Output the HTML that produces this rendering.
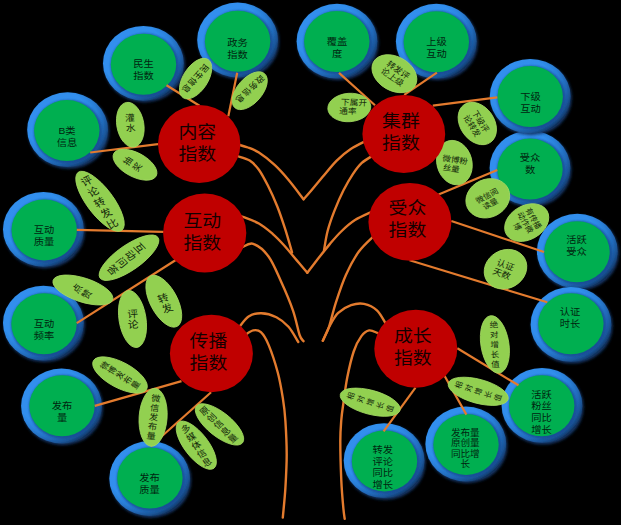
<!DOCTYPE html>
<html lang="zh"><head><meta charset="utf-8"><title>指数树</title>
<style>
html,body{margin:0;padding:0;background:#000;}
body{width:621px;height:525px;overflow:hidden;font-family:"Liberation Sans","Noto Sans CJK SC",sans-serif;}
svg{display:block;}
text{font-family:"Liberation Sans","Noto Sans CJK SC",sans-serif;}
</style></head><body>
<svg width="621" height="525" viewBox="0 0 621 525">
<rect width="621" height="525" fill="#000"/>
<defs>
<radialGradient id="bl" cx="0.38" cy="0.38" r="0.68" fx="0.38" fy="0.38">
<stop offset="0" stop-color="#3190EF"/>
<stop offset="0.60" stop-color="#308EED"/>
<stop offset="0.72" stop-color="#2B80D8"/>
<stop offset="0.82" stop-color="#226BBB"/>
<stop offset="0.90" stop-color="#1B5598"/>
<stop offset="0.96" stop-color="#123D70"/>
<stop offset="1" stop-color="#081A33"/>
</radialGradient>
<filter id="soft" x="-10%" y="-10%" width="120%" height="120%"><feGaussianBlur stdDeviation="0.45"/></filter>
<filter id="bs" x="-10%" y="-10%" width="120%" height="120%"><feGaussianBlur stdDeviation="1.4"/></filter>
<filter id="gs" x="-10%" y="-10%" width="120%" height="120%"><feGaussianBlur stdDeviation="1.3"/></filter>
</defs>
<ellipse cx="144.4" cy="64.8" rx="40.4" ry="37.4" fill="#123a70" filter="url(#bs)"/>
<ellipse cx="143.4" cy="63.3" rx="40.4" ry="37.4" fill="url(#bl)" filter="url(#soft)"/>
<ellipse cx="238.6" cy="41.5" rx="40.4" ry="37.4" fill="#123a70" filter="url(#bs)"/>
<ellipse cx="237.6" cy="40" rx="40.4" ry="37.4" fill="url(#bl)" filter="url(#soft)"/>
<ellipse cx="68.6" cy="131.2" rx="40.4" ry="37.4" fill="#123a70" filter="url(#bs)"/>
<ellipse cx="67.6" cy="129.7" rx="40.4" ry="37.4" fill="url(#bl)" filter="url(#soft)"/>
<ellipse cx="44.4" cy="230.8" rx="40.4" ry="37.4" fill="#123a70" filter="url(#bs)"/>
<ellipse cx="43.4" cy="229.3" rx="40.4" ry="37.4" fill="url(#bl)" filter="url(#soft)"/>
<ellipse cx="44.4" cy="324.6" rx="40.4" ry="37.4" fill="#123a70" filter="url(#bs)"/>
<ellipse cx="43.4" cy="323.1" rx="40.4" ry="37.4" fill="url(#bl)" filter="url(#soft)"/>
<ellipse cx="62.5" cy="407.5" rx="40.4" ry="37.4" fill="#123a70" filter="url(#bs)"/>
<ellipse cx="61.5" cy="406" rx="40.4" ry="37.4" fill="url(#bl)" filter="url(#soft)"/>
<ellipse cx="150.7" cy="480" rx="40.4" ry="37.4" fill="#123a70" filter="url(#bs)"/>
<ellipse cx="149.7" cy="478.5" rx="40.4" ry="37.4" fill="url(#bl)" filter="url(#soft)"/>
<ellipse cx="338" cy="42.7" rx="40.4" ry="37.4" fill="#123a70" filter="url(#bs)"/>
<ellipse cx="337" cy="41.2" rx="40.4" ry="37.4" fill="url(#bl)" filter="url(#soft)"/>
<ellipse cx="437.3" cy="42.7" rx="40.4" ry="37.4" fill="#123a70" filter="url(#bs)"/>
<ellipse cx="436.3" cy="41.2" rx="40.4" ry="37.4" fill="url(#bl)" filter="url(#soft)"/>
<ellipse cx="531" cy="169.5" rx="40.4" ry="37.4" fill="#123a70" filter="url(#bs)"/>
<ellipse cx="530" cy="168" rx="40.4" ry="37.4" fill="url(#bl)" filter="url(#soft)"/>
<ellipse cx="531.2" cy="97.8" rx="40.4" ry="37.4" fill="#123a70" filter="url(#bs)"/>
<ellipse cx="530.2" cy="96.3" rx="40.4" ry="37.4" fill="url(#bl)" filter="url(#soft)"/>
<ellipse cx="578.3" cy="252.7" rx="40.4" ry="37.4" fill="#123a70" filter="url(#bs)"/>
<ellipse cx="577.3" cy="251.2" rx="40.4" ry="37.4" fill="url(#bl)" filter="url(#soft)"/>
<ellipse cx="572" cy="325.9" rx="40.4" ry="37.4" fill="#123a70" filter="url(#bs)"/>
<ellipse cx="571" cy="324.4" rx="40.4" ry="37.4" fill="url(#bl)" filter="url(#soft)"/>
<ellipse cx="543" cy="406.9" rx="40.4" ry="37.4" fill="#123a70" filter="url(#bs)"/>
<ellipse cx="542" cy="405.4" rx="40.4" ry="37.4" fill="url(#bl)" filter="url(#soft)"/>
<ellipse cx="466.8" cy="445.5" rx="40.4" ry="37.4" fill="#123a70" filter="url(#bs)"/>
<ellipse cx="465.8" cy="444" rx="40.4" ry="37.4" fill="url(#bl)" filter="url(#soft)"/>
<ellipse cx="385.1" cy="462.1" rx="40.4" ry="37.4" fill="#123a70" filter="url(#bs)"/>
<ellipse cx="384.1" cy="460.6" rx="40.4" ry="37.4" fill="url(#bl)" filter="url(#soft)"/>
<ellipse cx="144.7" cy="65.5" rx="34.1" ry="31.9" fill="#174a90" opacity="0.8" filter="url(#gs)"/>
<ellipse cx="143.5" cy="64.3" rx="32.7" ry="30.5" fill="#00AF50"/>
<ellipse cx="238.8" cy="42.4" rx="34.1" ry="31.9" fill="#174a90" opacity="0.8" filter="url(#gs)"/>
<ellipse cx="237.6" cy="41.2" rx="32.7" ry="30.5" fill="#00AF50"/>
<ellipse cx="68" cy="131.8" rx="34.1" ry="31.9" fill="#174a90" opacity="0.8" filter="url(#gs)"/>
<ellipse cx="66.8" cy="130.6" rx="32.7" ry="30.5" fill="#00AF50"/>
<ellipse cx="45.4" cy="231.1" rx="34.1" ry="31.9" fill="#174a90" opacity="0.8" filter="url(#gs)"/>
<ellipse cx="44.2" cy="229.9" rx="32.7" ry="30.5" fill="#00AF50"/>
<ellipse cx="45.2" cy="325" rx="34.1" ry="31.9" fill="#174a90" opacity="0.8" filter="url(#gs)"/>
<ellipse cx="44" cy="323.8" rx="32.7" ry="30.5" fill="#00AF50"/>
<ellipse cx="63.2" cy="407" rx="34.1" ry="31.9" fill="#174a90" opacity="0.8" filter="url(#gs)"/>
<ellipse cx="62" cy="405.8" rx="32.7" ry="30.5" fill="#00AF50"/>
<ellipse cx="151.1" cy="479.2" rx="34.1" ry="31.9" fill="#174a90" opacity="0.8" filter="url(#gs)"/>
<ellipse cx="149.9" cy="478" rx="32.7" ry="30.5" fill="#00AF50"/>
<ellipse cx="338" cy="42.7" rx="34.1" ry="31.9" fill="#174a90" opacity="0.8" filter="url(#gs)"/>
<ellipse cx="336.8" cy="41.5" rx="32.7" ry="30.5" fill="#00AF50"/>
<ellipse cx="437.5" cy="43" rx="34.1" ry="31.9" fill="#174a90" opacity="0.8" filter="url(#gs)"/>
<ellipse cx="436.3" cy="41.8" rx="32.7" ry="30.5" fill="#00AF50"/>
<ellipse cx="531.2" cy="170.3" rx="34.1" ry="31.9" fill="#174a90" opacity="0.8" filter="url(#gs)"/>
<ellipse cx="530" cy="169.1" rx="32.7" ry="30.5" fill="#00AF50"/>
<ellipse cx="531.4" cy="97.7" rx="34.1" ry="31.9" fill="#174a90" opacity="0.8" filter="url(#gs)"/>
<ellipse cx="530.2" cy="96.5" rx="32.7" ry="30.5" fill="#00AF50"/>
<ellipse cx="578.2" cy="253" rx="34.1" ry="31.9" fill="#174a90" opacity="0.8" filter="url(#gs)"/>
<ellipse cx="577" cy="251.8" rx="32.7" ry="30.5" fill="#00AF50"/>
<ellipse cx="572.1" cy="325" rx="34.1" ry="31.9" fill="#174a90" opacity="0.8" filter="url(#gs)"/>
<ellipse cx="570.9" cy="323.8" rx="32.7" ry="30.5" fill="#00AF50"/>
<ellipse cx="542.9" cy="406.9" rx="34.1" ry="31.9" fill="#174a90" opacity="0.8" filter="url(#gs)"/>
<ellipse cx="541.7" cy="405.7" rx="32.7" ry="30.5" fill="#00AF50"/>
<ellipse cx="467.2" cy="445.6" rx="34.1" ry="31.9" fill="#174a90" opacity="0.8" filter="url(#gs)"/>
<ellipse cx="466" cy="444.4" rx="32.7" ry="30.5" fill="#00AF50"/>
<ellipse cx="385.7" cy="462.1" rx="34.1" ry="31.9" fill="#174a90" opacity="0.8" filter="url(#gs)"/>
<ellipse cx="384.5" cy="460.9" rx="32.7" ry="30.5" fill="#00AF50"/>
<g fill="none" stroke="#E37B2E" stroke-width="2.4" stroke-linecap="round" stroke-linejoin="round">
<path d="M238.0 144.5C239.7 145.0 244.5 146.2 248.0 147.5C251.5 148.8 254.4 149.7 258.9 152.6C263.4 155.5 269.9 160.6 274.9 165.2C279.8 169.8 283.8 174.3 288.6 180.0C293.4 185.7 301.1 196.1 303.6 199.3"/>
<path d="M366.5 140.6C363.8 142.0 355.4 145.9 350.4 149.2C345.4 152.5 341.3 156.0 336.7 160.6C332.1 165.2 327.1 171.6 322.9 176.6C318.7 181.6 314.7 186.5 311.5 190.3C308.3 194.1 304.9 197.8 303.6 199.3"/>
<path d="M237.0 156.0C239.1 156.8 246.0 158.3 249.7 160.6C253.3 162.9 255.8 165.5 258.9 169.7C261.9 173.9 264.9 179.7 268.0 185.8C271.1 191.9 274.3 199.1 277.2 206.3C280.1 213.5 282.7 221.5 285.2 229.2C287.7 236.9 290.9 248.5 292.0 252.3"/>
<path d="M373.8 155.0C371.8 156.3 365.3 159.7 361.8 162.9C358.3 166.1 355.8 169.7 352.7 174.3C349.6 178.9 346.6 184.2 343.5 190.3C340.4 196.4 337.1 204.0 334.4 210.9C331.7 217.8 329.2 224.9 327.5 231.5C325.8 238.1 324.6 247.2 324.0 250.3"/>
<path d="M241.0 216.0C244.0 217.2 253.6 220.5 258.9 223.5C264.2 226.5 268.4 230.2 272.6 233.8C276.8 237.4 279.9 240.7 284.0 245.2C288.1 249.7 293.1 256.0 297.0 260.6C300.9 265.2 305.6 270.7 307.3 272.7"/>
<path d="M372.5 211.5C369.6 212.9 360.2 216.8 355.0 220.1C349.8 223.4 345.4 227.5 341.2 231.5C337.0 235.5 333.7 239.5 329.8 244.1C325.9 248.7 321.4 254.5 317.6 259.3C313.9 264.1 309.0 270.5 307.3 272.7"/>
<path d="M242.0 247.5C243.9 246.9 248.8 242.3 253.2 243.8C257.6 245.3 264.0 250.2 268.7 256.7C273.4 263.1 277.4 273.5 281.5 282.5C285.6 291.5 290.1 302.1 293.1 310.8C296.1 319.6 297.9 329.9 299.6 335.0C301.3 340.1 302.9 340.2 303.5 341.2"/>
<path d="M373.8 236.0C371.3 238.6 363.5 245.1 358.9 251.5C354.3 257.9 349.9 266.1 346.0 274.7C342.1 283.3 338.5 294.5 335.7 303.1C332.9 311.7 331.3 320.0 329.2 326.3C327.1 332.6 323.9 338.3 322.8 340.7"/>
<path d="M238.5 328.0C240.2 326.1 244.8 319.0 248.6 316.5C252.4 314.0 256.6 313.1 261.2 313.2C265.8 313.3 271.8 314.9 276.4 317.2C280.9 319.5 284.9 322.7 288.5 326.8C292.1 330.9 296.7 339.5 298.3 342.0"/>
<path d="M386.0 324.0C384.5 321.7 380.6 313.7 376.9 310.3C373.2 306.9 368.3 304.8 364.0 303.9C359.7 303.0 355.4 303.7 351.1 305.2C346.8 306.7 341.6 309.7 338.2 312.9C334.8 316.1 333.1 319.9 330.5 324.5C327.9 329.1 324.1 338.0 322.8 340.7"/>
<path d="M245.0 335.0C246.4 334.2 250.5 330.9 253.2 330.4C255.8 329.9 258.3 329.8 260.9 332.2C263.5 334.6 265.9 338.4 268.7 345.1C271.5 351.8 275.3 363.4 277.7 372.2C280.1 381.0 281.5 389.8 282.8 397.9C284.1 406.0 284.8 411.5 285.4 420.9C286.0 430.3 286.7 443.2 286.7 454.4C286.7 465.6 286.0 477.4 285.4 487.9C284.8 498.4 283.2 512.6 282.8 517.6"/>
<path d="M377.5 333.0C376.1 332.6 371.9 329.9 369.2 330.4C366.5 330.9 364.0 332.6 361.4 336.1C358.8 339.6 356.0 344.6 353.7 351.5C351.4 358.4 349.0 368.7 347.3 377.3C345.6 385.9 344.4 396.0 343.4 403.1C342.4 410.2 341.8 413.6 341.3 420.0C340.8 426.4 340.3 431.5 340.3 441.5C340.3 451.5 340.8 469.0 341.3 480.2C341.8 491.4 342.8 502.2 343.4 508.6C344.0 515.1 344.5 517.2 344.7 518.9"/>
</g>
<g fill="none" stroke="#E37B2E" stroke-width="2.2">
<path d="M166.5 85.3L199.5 105.8"/>
<path d="M237.2 72.8L228.3 116.2"/>
<path d="M90.2 152.5L158 144.2"/>
<path d="M76.8 229.8L163.8 231.9"/>
<path d="M76.8 323.1L176.6 259.5"/>
<path d="M94.8 405.9L181.5 381.1"/>
<path d="M150.6 446.3L211.1 392.2"/>
<path d="M339 72.9L375 105.2"/>
<path d="M436.9 72.7L404.2 94.8"/>
<path d="M497.3 97.4L432.8 105.7"/>
<path d="M497.3 169.9L438.6 194.4"/>
<path d="M544 252L451.3 221"/>
<path d="M547.3 302.3L409.6 260.2"/>
<path d="M518.5 385.3L457.3 348.3"/>
<path d="M466.4 414.6L444.5 375.7"/>
<path d="M383.6 431.3L415.5 387.6"/>
</g>
<ellipse cx="0" cy="0" rx="22.8" ry="12.3" transform="translate(195.6 78.6) rotate(123)" fill="#92D050" stroke="#A4DA62" stroke-width="0.8"/>
<ellipse cx="0" cy="0" rx="22.6" ry="12.5" transform="translate(249.7 90.7) rotate(131)" fill="#92D050" stroke="#A4DA62" stroke-width="0.8"/>
<ellipse cx="0" cy="0" rx="13.5" ry="22.6" transform="translate(130.3 124.7) rotate(-10)" fill="#92D050" stroke="#A4DA62" stroke-width="0.8"/>
<ellipse cx="0" cy="0" rx="12" ry="24" transform="translate(135 164.7) rotate(-62)" fill="#92D050" stroke="#A4DA62" stroke-width="0.8"/>
<ellipse cx="0" cy="0" rx="13.2" ry="36.3" transform="translate(100 201.3) rotate(-37)" fill="#92D050" stroke="#A4DA62" stroke-width="0.8"/>
<ellipse cx="0" cy="0" rx="12.5" ry="35.4" transform="translate(129 257.7) rotate(55)" fill="#92D050" stroke="#A4DA62" stroke-width="0.8"/>
<ellipse cx="0" cy="0" rx="12" ry="31.3" transform="translate(82.9 290) rotate(-72)" fill="#92D050" stroke="#A4DA62" stroke-width="0.8"/>
<ellipse cx="0" cy="0" rx="13.5" ry="28.8" transform="translate(132.5 319) rotate(-9)" fill="#92D050" stroke="#A4DA62" stroke-width="0.8"/>
<ellipse cx="0" cy="0" rx="13.5" ry="28.5" transform="translate(163.8 301.2) rotate(-28)" fill="#92D050" stroke="#A4DA62" stroke-width="0.8"/>
<ellipse cx="0" cy="0" rx="12.8" ry="30.2" transform="translate(120 375) rotate(-62)" fill="#92D050" stroke="#A4DA62" stroke-width="0.8"/>
<ellipse cx="0" cy="0" rx="14" ry="29" transform="translate(153.1 417.3) rotate(4)" fill="#92D050" stroke="#A4DA62" stroke-width="0.8"/>
<ellipse cx="0" cy="0" rx="12" ry="29" transform="translate(196.3 445.2) rotate(-37.6)" fill="#92D050" stroke="#A4DA62" stroke-width="0.8"/>
<ellipse cx="0" cy="0" rx="12" ry="29.5" transform="translate(219.5 424.4) rotate(-51.3)" fill="#92D050" stroke="#A4DA62" stroke-width="0.8"/>
<ellipse cx="0" cy="0" rx="24" ry="17" transform="translate(394.4 73.7) rotate(30)" fill="#92D050" stroke="#A4DA62" stroke-width="0.8"/>
<ellipse cx="0" cy="0" rx="21.5" ry="14.2" transform="translate(349.3 107.5) rotate(-4)" fill="#92D050" stroke="#A4DA62" stroke-width="0.8"/>
<ellipse cx="0" cy="0" rx="17" ry="23" transform="translate(477.3 123.5) rotate(-35)" fill="#92D050" stroke="#A4DA62" stroke-width="0.8"/>
<ellipse cx="0" cy="0" rx="17.5" ry="22.5" transform="translate(454.4 162.6) rotate(-15)" fill="#92D050" stroke="#A4DA62" stroke-width="0.8"/>
<ellipse cx="0" cy="0" rx="22.5" ry="19" transform="translate(487.8 198.3) rotate(-25)" fill="#92D050" stroke="#A4DA62" stroke-width="0.8"/>
<ellipse cx="0" cy="0" rx="23.5" ry="17" transform="translate(526.7 222.6) rotate(-30)" fill="#92D050" stroke="#A4DA62" stroke-width="0.8"/>
<ellipse cx="0" cy="0" rx="22" ry="19" transform="translate(505.5 269.2) rotate(-30)" fill="#92D050" stroke="#A4DA62" stroke-width="0.8"/>
<ellipse cx="0" cy="0" rx="14" ry="29" transform="translate(494.9 344.4) rotate(-9)" fill="#92D050" stroke="#A4DA62" stroke-width="0.8"/>
<ellipse cx="0" cy="0" rx="12" ry="30.9" transform="translate(478.2 391.3) rotate(-75)" fill="#92D050" stroke="#A4DA62" stroke-width="0.8"/>
<ellipse cx="0" cy="0" rx="12" ry="30.9" transform="translate(370.2 402.2) rotate(-75)" fill="#92D050" stroke="#A4DA62" stroke-width="0.8"/>
<ellipse cx="199.2" cy="144" rx="41.2" ry="39" fill="#C00000"/>
<ellipse cx="204.7" cy="232.9" rx="41.6" ry="39.5" fill="#C00000"/>
<ellipse cx="211.4" cy="353.5" rx="41.5" ry="38.8" fill="#C00000"/>
<ellipse cx="403.8" cy="133.9" rx="41.4" ry="39" fill="#C00000"/>
<ellipse cx="409.9" cy="221.8" rx="41.5" ry="38.9" fill="#C00000"/>
<ellipse cx="415.8" cy="348.7" rx="41.5" ry="39" fill="#C00000"/>
<g transform="translate(195.6 78.6) scale(1.08 1) rotate(129.82)" fill="#0c1a04">
<text font-size="8.1" x="-17.1 -8.4 0.3 9" y="3.08">民生信息</text>
</g>
<g transform="translate(250.1 89) scale(1.08 1) rotate(133.8)" fill="#0c1a04">
<text font-size="8.1" x="-17.25 -8.45 0.35 9.15" y="3.08">政务信息</text>
</g>
<g transform="translate(130.3 122.7) scale(1.08 1) rotate(-2.78)" fill="#13280a">
<text font-size="9" x="-4.5 -4.5" y="-1.68 8.52">灌水</text>
</g>
<g transform="translate(132.5 163.9) scale(1.08 1) rotate(-54.96)" fill="#13280a">
<text font-size="8.5" x="-4.25 -4.25" y="-1.99 8.45">抽奖</text>
</g>
<g transform="translate(99.5 202.2) scale(1.08 1) rotate(-29.09)" fill="#13280a">
<text font-size="10.3" x="-5.15 -5.15 -5.15 -5.15 -5.15" y="-20.61 -8.35 3.91 16.18 28.44">评论转发比</text>
</g>
<g transform="translate(126.3 258.9) scale(1.08 1) rotate(48.83)" fill="#13280a">
<text font-size="10" x="-5 -5 -5 -5" y="-12.69 -1.7 9.3 20.29">互动问答</text>
</g>
<g transform="translate(81.9 291.3) scale(1.08 1) rotate(-55.99)" fill="#13280a">
<text font-size="9" x="-4.5 -4.5" y="-1.79 8.63">点赞</text>
</g>
<g transform="translate(133 319) scale(1.08 1) rotate(-2.78)" fill="#13280a">
<text font-size="10" x="-5 -5" y="-1.45 9.05">评论</text>
</g>
<g transform="translate(165.1 303.2) scale(1.08 1) rotate(-21.46)" fill="#13280a">
<text font-size="10" x="-5 -5" y="-1.54 9.14">转发</text>
</g>
<g transform="translate(120 375) scale(1.08 1) rotate(-55.99)" fill="#13280a">
<text font-size="8.1" x="-4.05 -4.05 -4.05 -4.05 -4.05" y="-14.16 -5.54 3.08 11.7 20.32">微博发布量</text>
</g>
<g transform="translate(153.6 417) scale(1.08 1) rotate(6.49)" fill="#13280a">
<text font-size="8.5" x="-4.25 -4.25 -4.25 -4.25 -4.25" y="-15.55 -6.16 3.23 12.62 22.01">微信发布量</text>
</g>
<g transform="translate(196.3 445.2) scale(1.08 1) rotate(-30.05)" fill="#13280a">
<text font-size="8.8" x="-4.4 -4.4 -4.4 -4.4 -4.4" y="-15.86 -6.26 3.34 12.95 22.55">多媒体信息</text>
</g>
<g transform="translate(218.5 424.4) scale(1.08 1) rotate(-43.8)" fill="#13280a">
<text font-size="8.8" x="-4.4 -4.4 -4.4 -4.4 -4.4" y="-15.52 -6.09 3.34 12.78 22.21">原创信息量</text>
</g>
<g transform="translate(395.4 73.4) scale(1.08 1) rotate(37.1)" fill="#13280a">
<text font-size="8.1" x="-12.15 -4.05 4.05 -12.15 -4.05 4.05" y="-1.39 -1.39 -1.39 7.54 7.54 7.54">转发评论上级</text>
</g>
<g transform="translate(349.3 106.5) scale(1.08 1) rotate(2.16)" fill="#13280a">
<text font-size="8.1" x="-7.95 0.15 8.25 -9.3 -1.2" y="-1.32 -1.32 -1.32 7.48 7.48">下属开通率</text>
</g>
<g transform="translate(476.4 123.5) scale(1.08 1) rotate(59.95)" fill="#13280a">
<text font-size="7.9" x="-11.85 -3.95 3.95 -11.85 -3.95 3.95" y="-1.62 -1.62 -1.62 7.62 7.62 7.62">下级评论转发</text>
</g>
<g transform="translate(454.4 164.1) scale(1.08 1) rotate(8.63)" fill="#13280a">
<text font-size="7.9" x="-11.85 -3.95 3.95 -10.1 -2.2" y="-1.49 -1.49 -1.49 7.49 7.49">微博粉丝量</text>
</g>
<g transform="translate(489.3 199.3) scale(1.08 1) rotate(-29.87)" fill="#13280a">
<text font-size="7.6" x="-11.4 -3.8 3.8 -9.1 -1.5" y="-1.42 -1.42 -1.42 7.2 7.2">微信阅读量</text>
</g>
<g transform="translate(525.5 222.4) scale(1.08 1) rotate(61.87)" fill="#13280a">
<text font-size="7.6" x="-11.4 -3.8 3.8 -11.4 -3.8 3.8 -3.8" y="-5.58 -5.58 -5.58 2.89 2.89 2.89 11.36">有传播动作微博</text>
</g>
<g transform="translate(503.7 269.2) scale(1.08 1) rotate(21.46)" fill="#13280a">
<text font-size="8.5" x="-8.5 0 -8.5 0" y="-1.52 -1.52 7.98 7.98">认证天数</text>
</g>
<g transform="translate(494.6 344.4) scale(1.08 1) rotate(-1.85)" fill="#13280a">
<text font-size="7.9" x="-3.95 -3.95 -3.95 -3.95 -3.95" y="-16.8 -6.9 3 12.9 22.8">绝对增长值</text>
</g>
<g transform="translate(478.2 391.3) scale(1.08 1) rotate(-70.66)" fill="#13280a">
<text font-size="7.4" x="-3.7 -3.7 -3.7 -3.7 -3.7" y="-16.41 -6.8 2.81 12.42 22.04">相对增长值</text>
</g>
<g transform="translate(370.2 402.2) scale(1.08 1) rotate(-70.66)" fill="#13280a">
<text font-size="7.4" x="-3.7 -3.7 -3.7 -3.7 -3.7" y="-16.41 -6.8 2.81 12.42 22.04">相对增长值</text>
</g>
<g transform="translate(143.5 69.5) scale(1.08 1)" fill="#00250f">
<text font-size="9.5" x="-9.5 0 -9.5 0" y="-2.29 -2.29 9.51 9.51">民生指数</text>
</g>
<g transform="translate(237.5 48) scale(1.08 1)" fill="#00250f">
<text font-size="9.5" x="-9.5 0 -9.5 0" y="-2.29 -2.29 9.51 9.51">政务指数</text>
</g>
<g transform="translate(67 136) scale(1.08 1)" fill="#00250f">
<text font-size="9.5" x="-7.92 -1.58 -9.5 0" y="-2.29 -2.29 9.51 9.51">B类信息</text>
</g>
<g transform="translate(44 235) scale(1.08 1)" fill="#00250f">
<text font-size="9.5" x="-9.5 0 -9.5 0" y="-2.29 -2.29 9.51 9.51">互动质量</text>
</g>
<g transform="translate(44 329) scale(1.08 1)" fill="#00250f">
<text font-size="9.5" x="-9.5 0 -9.5 0" y="-2.29 -2.29 9.51 9.51">互动频率</text>
</g>
<g transform="translate(62 411.5) scale(1.08 1)" fill="#00250f">
<text font-size="9.5" x="-9.5 0 -4.75" y="-2.29 -2.29 9.51">发布量</text>
</g>
<g transform="translate(149.5 483.5) scale(1.08 1)" fill="#00250f">
<text font-size="9.5" x="-9.5 0 -9.5 0" y="-2.29 -2.29 9.51 9.51">发布质量</text>
</g>
<g transform="translate(337 47.5) scale(1.08 1)" fill="#00250f">
<text font-size="9.5" x="-9.5 0 -4.75" y="-2.29 -2.29 9.51">覆盖度</text>
</g>
<g transform="translate(436.5 47.5) scale(1.08 1)" fill="#00250f">
<text font-size="9.5" x="-9.5 0 -9.5 0" y="-2.29 -2.29 9.51 9.51">上级互动</text>
</g>
<g transform="translate(530.5 102.5) scale(1.08 1)" fill="#00250f">
<text font-size="9.5" x="-9.5 0 -9.5 0" y="-2.29 -2.29 9.51 9.51">下级互动</text>
</g>
<g transform="translate(530 163.5) scale(1.08 1)" fill="#00250f">
<text font-size="9.5" x="-9.5 0 -4.75" y="-2.29 -2.29 9.51">受众数</text>
</g>
<g transform="translate(576.5 245.5) scale(1.08 1)" fill="#00250f">
<text font-size="9.5" x="-9.5 0 -9.5 0" y="-2.29 -2.29 9.51 9.51">活跃受众</text>
</g>
<g transform="translate(570 317.5) scale(1.08 1)" fill="#00250f">
<text font-size="9.5" x="-9.5 0 -9.5 0" y="-2.29 -2.29 9.51 9.51">认证时长</text>
</g>
<g transform="translate(541.5 411.7) scale(1.08 1)" fill="#00250f">
<text font-size="9.5" x="-9.5 0 -9.5 0 -9.5 0 -9.5 0" y="-13.94 -13.94 -2.24 -2.24 9.46 9.46 21.16 21.16">活跃粉丝同比增长</text>
</g>
<g transform="translate(465.3 448.1) scale(1.08 1)" fill="#00250f">
<text font-size="8.9" x="-13.35 -4.45 4.45 -13.35 -4.45 4.45 -13.35 -4.45 4.45 -4.45" y="-12.14 -12.14 -12.14 -1.79 -1.79 -1.79 8.56 8.56 8.56 18.91">发布量原创量同比增长</text>
</g>
<g transform="translate(382.8 467.1) scale(1.08 1)" fill="#00250f">
<text font-size="9.5" x="-9.5 0 -9.5 0 -9.5 0 -9.5 0" y="-13.79 -13.79 -2.19 -2.19 9.41 9.41 21.01 21.01">转发评论同比增长</text>
</g>
<g transform="translate(197.3 142) scale(1.08 1)" fill="#140000">
<text font-size="17.5" x="-17.5 0 -17.5 0" y="-4.25 -4.25 17.55 17.55">内容指数</text>
</g>
<g transform="translate(202.3 231) scale(1.08 1)" fill="#140000">
<text font-size="17.5" x="-17.5 0 -17.5 0" y="-4.25 -4.25 17.55 17.55">互动指数</text>
</g>
<g transform="translate(208.5 351.7) scale(1.08 1)" fill="#140000">
<text font-size="17.5" x="-17.5 0 -17.5 0" y="-4.25 -4.25 17.55 17.55">传播指数</text>
</g>
<g transform="translate(401 131.2) scale(1.08 1)" fill="#140000">
<text font-size="17.5" x="-17.5 0 -17.5 0" y="-4.25 -4.25 17.55 17.55">集群指数</text>
</g>
<g transform="translate(407.5 218.5) scale(1.08 1)" fill="#140000">
<text font-size="17.5" x="-17.5 0 -17.5 0" y="-4.25 -4.25 17.55 17.55">受众指数</text>
</g>
<g transform="translate(412.8 346.3) scale(1.08 1)" fill="#140000">
<text font-size="17.5" x="-17.5 0 -17.5 0" y="-4.25 -4.25 17.55 17.55">成长指数</text>
</g>
</svg>
</body></html>
